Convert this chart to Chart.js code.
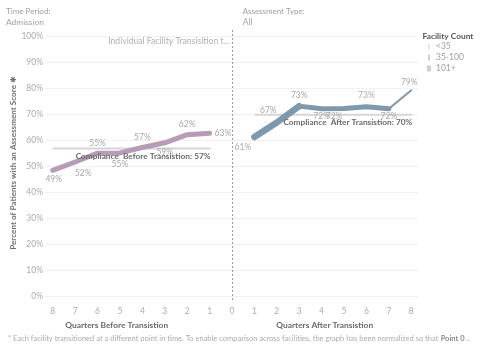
<!DOCTYPE html>
<html><head><meta charset="utf-8">
<script src="https://cdn.jsdelivr.net/npm/chart.js@4"></script>
<style>html,body{margin:0;padding:0;background:#fff;overflow:hidden}#wrap{width:480px;height:349px;position:relative}</style>
</head><body><div id="wrap"><canvas id="c" width="480" height="349"></canvas></div>
<script>
// ---- data ----
const quartersBefore = [-8, -7, -6, -5, -4, -3, -2, -1];
const complianceBefore = [48.6, 51.8, 55.2, 55.3, 57.4, 59.2, 62.3, 62.9];
const facilityBefore = ['35-100', '35-100', '35-100', '35-100', '35-100', '35-100', '35-100', '35-100'];
const quartersAfter = [1, 2, 3, 4, 5, 6, 7, 8];
const complianceAfter = [61.4, 67.0, 73.3, 72.3, 72.4, 73.1, 72.3, 79.4];
const facilityAfter = ['101+', '101+', '35-100', '35-100', '35-100', '35-100', '<35', '<35'];
const xTickValues = [-8, -7, -6, -5, -4, -3, -2, -1, 0, 1, 2, 3, 4, 5, 6, 7, 8];
const yTickValues = [0, 10, 20, 30, 40, 50, 60, 70, 80, 90, 100];
const referenceNames = ['Compliance  Before Transistion', 'Compliance  After Transistion'];
const referenceValues = [57, 70];
const facilityCountLevels = ['<35', '35-100', '101+'];

// ---- styles ----
const widthByLevel = {'<35': 2, '35-100': 5, '101+': 6.5};
const legendBarWidth = {'<35': 1, '35-100': 2, '101+': 4};
const colorBefore = '#b89cb6';
const colorAfter = '#7e99ae';
const FONT = 'Lato, "Open Sans", "DejaVu Sans", sans-serif';
const labelOffsetsBefore = [[1, 9.3], [8, 11.5], [0, -10], [0, 11], [0, -10], [0, 9.4], [0, -10], [13.3, 0]];
const labelOffsetsAfter = [[-11.5, 10], [-8.5, -12], [0, -11], [0, 8], [-10, 8], [0, -11.5], [0, 8], [-2, -8]];

function toPoints(xs, ys) { return xs.map((x, i) => ({x: x, y: ys[i]})); }

function fitSize(ctx, text, weight, targetW, base) {
  ctx.font = weight + ' ' + base + 'px ' + FONT;
  const w = ctx.measureText(text).width;
  return base * targetW / w;
}
function txt(ctx, text, x, y, o) {
  const weight = o.weight || 'normal';
  let size = o.size || 8.5;
  if (o.width) size = fitSize(ctx, text, weight, o.width, 10);
  ctx.save();
  ctx.font = weight + ' ' + size + 'px ' + FONT;
  ctx.fillStyle = o.color || '#999';
  ctx.textAlign = o.align || 'left';
  ctx.textBaseline = 'middle';
  if (o.rotate) { ctx.translate(x, y); ctx.rotate(o.rotate); ctx.fillText(text, 0, 0); }
  else ctx.fillText(text, x, y);
  ctx.restore();
}

const decor = {
  id: 'decor',
  beforeDatasetsDraw(chart) {
    const ctx = chart.ctx, xs = chart.scales.x, ys = chart.scales.y, ca = chart.chartArea;
    ctx.save();
    ctx.strokeStyle = '#9a9a9a'; ctx.lineWidth = 1; ctx.setLineDash([2, 2]);
    const x0 = Math.round(xs.getPixelForValue(0)) + 0.5;
    ctx.beginPath(); ctx.moveTo(x0, 30); ctx.lineTo(x0, ca.bottom - 1); ctx.stroke();
    ctx.restore();
    const spans = [[quartersBefore[0], quartersBefore[quartersBefore.length - 1]], [quartersAfter[0], quartersAfter[quartersAfter.length - 1]]];
    ctx.save();
    ctx.strokeStyle = '#d6d6d6'; ctx.lineWidth = 2;
    referenceValues.forEach((v, i) => {
      const y = ys.getPixelForValue(v);
      ctx.beginPath();
      ctx.moveTo(xs.getPixelForValue(spans[i][0]), y);
      ctx.lineTo(xs.getPixelForValue(spans[i][1]) + 1, y);
      ctx.stroke();
    });
    ctx.restore();
  },
  afterDatasetsDraw(chart) {
    const ctx = chart.ctx, xs = chart.scales.x, ys = chart.scales.y;
    const sets = [[complianceBefore, labelOffsetsBefore], [complianceAfter, labelOffsetsAfter]];
    sets.forEach((s, di) => {
      const meta = chart.getDatasetMeta(di);
      meta.data.forEach((el, i) => {
        const off = s[1][i];
        txt(ctx, Math.round(s[0][i]) + '%', el.x + off[0], el.y + off[1], {size: 8.5, color: '#a8a8a8', align: 'center'});
      });
    });
    const ends = [quartersBefore[quartersBefore.length - 1], quartersAfter[quartersAfter.length - 1]];
    const widths = [135, 129];
    referenceValues.forEach((v, i) => {
      const y = ys.getPixelForValue(v);
      txt(ctx, referenceNames[i] + ': ' + v + '%', xs.getPixelForValue(ends[i]) + 1, y + 7.5,
        {weight: 'bold', color: '#6a6a6a', align: 'right', width: widths[i]});
    });
  },
  afterDraw(chart) {
    const ctx = chart.ctx;
    txt(ctx, 'Time Period:', 6, 11.7, {color: '#a0a0a0', width: 44.5});
    txt(ctx, 'Admission', 6, 22.7, {color: '#a0a0a0', width: 38});
    txt(ctx, 'Assessment Type:', 242.7, 11.7, {color: '#a0a0a0', width: 62});
    txt(ctx, 'All', 242.7, 22.7, {color: '#a0a0a0', size: 8.5});
    txt(ctx, 'Individual Facility Transisition t\u2026', 230, 41.5, {color: '#b0b0b0', align: 'right', width: 122});
    txt(ctx, 'Facility Count', 422.5, 36.7, {weight: 'bold', color: '#555', width: 51});
    const rows = [46.7, 57.6, 68.5];
    facilityCountLevels.forEach((lv, i) => {
      const bw = legendBarWidth[lv];
      ctx.fillStyle = '#cfcfcf';
      ctx.fillRect(429 - bw / 2, rows[i] - 3, bw, 6);
      txt(ctx, lv, 436, rows[i], {color: '#a0a0a0', size: 8.5});
    });
    txt(ctx, 'Quarters Before Transistion', 116.7, 325, {weight: 'bold', color: '#6a6a6a', align: 'center', width: 103});
    txt(ctx, 'Quarters After Transistion', 324.7, 325, {weight: 'bold', color: '#6a6a6a', align: 'center', width: 97});
    txt(ctx, 'Percent of Patients with an Assessment Score \u2731', 13, 163, {weight: 'bold', color: '#707070', align: 'center', width: 174, rotate: -Math.PI / 2});
    const p1 = '* Each facility transitioned at a different point in time. To enable comparison across facilities, the graph has been normalized so that ';
    const p2 = 'Point 0';
    const p3 = ' ..';
    ctx.save();
    const base = 10;
    ctx.font = 'normal ' + base + 'px ' + FONT; const w1 = ctx.measureText(p1).width, w3 = ctx.measureText(p3).width;
    ctx.font = 'bold ' + base + 'px ' + FONT; const w2 = ctx.measureText(p2).width;
    const k = 462 / (w1 + w2 + w3), fs = base * k;
    ctx.textBaseline = 'middle';
    ctx.font = 'normal ' + fs + 'px ' + FONT; ctx.fillStyle = '#ababab';
    ctx.fillText(p1, 8, 338.5);
    ctx.font = 'bold ' + fs + 'px ' + FONT; ctx.fillStyle = '#8a8a8a';
    ctx.fillText(p2, 8 + w1 * k, 338.5);
    ctx.font = 'normal ' + fs + 'px ' + FONT; ctx.fillStyle = '#ababab';
    ctx.fillText(p3, 8 + (w1 + w2) * k, 338.5);
    ctx.restore();
  }
};

function segWidth(levels) {
  return ctx => widthByLevel[levels[ctx.p0DataIndex]];
}

new Chart(document.getElementById('c'), {
  type: 'line',
  data: {
    datasets: [
      {data: toPoints(quartersBefore, complianceBefore), borderColor: colorBefore, backgroundColor: colorBefore,
       borderWidth: 5, segment: {borderWidth: segWidth(facilityBefore)}, pointRadius: 0,
       borderCapStyle: 'round', borderJoinStyle: 'round', tension: 0},
      {data: toPoints(quartersAfter, complianceAfter), borderColor: colorAfter, backgroundColor: colorAfter,
       borderWidth: 5, segment: {borderWidth: segWidth(facilityAfter)}, pointRadius: 0,
       borderCapStyle: 'round', borderJoinStyle: 'round', tension: 0}
    ]
  },
  options: {
    responsive: false, animation: false, devicePixelRatio: 1,
    layout: {padding: {left: 0, right: 62, top: 32.8, bottom: 0}},
    plugins: {legend: {display: false}, tooltip: {enabled: false}},
    scales: {
      x: {
        type: 'linear', min: -8.3, max: 8.3,
        afterBuildTicks: s => { s.ticks = xTickValues.map(v => ({value: v})); },
        afterFit: s => { s.height = 45.8; },
        grid: {display: false, drawTicks: false}, border: {display: false},
        ticks: {padding: 3, color: '#ababab', font: {family: FONT, size: 8.5}, callback: v => String(Math.abs(v)), maxRotation: 0, minRotation: 0, autoSkip: false}
      },
      y: {
        type: 'linear', min: -2.5, max: 101.5,
        afterBuildTicks: s => { s.ticks = yTickValues.map(v => ({value: v})); },
        afterFit: s => { s.width = 46; },
        grid: {color: '#f1f1f1', lineWidth: 1, drawTicks: false}, border: {display: false},
        ticks: {padding: 3, color: '#ababab', font: {family: FONT, size: 8.5}, callback: v => v + '%', autoSkip: false}
      }
    }
  },
  plugins: [decor]
});
</script></body></html>
